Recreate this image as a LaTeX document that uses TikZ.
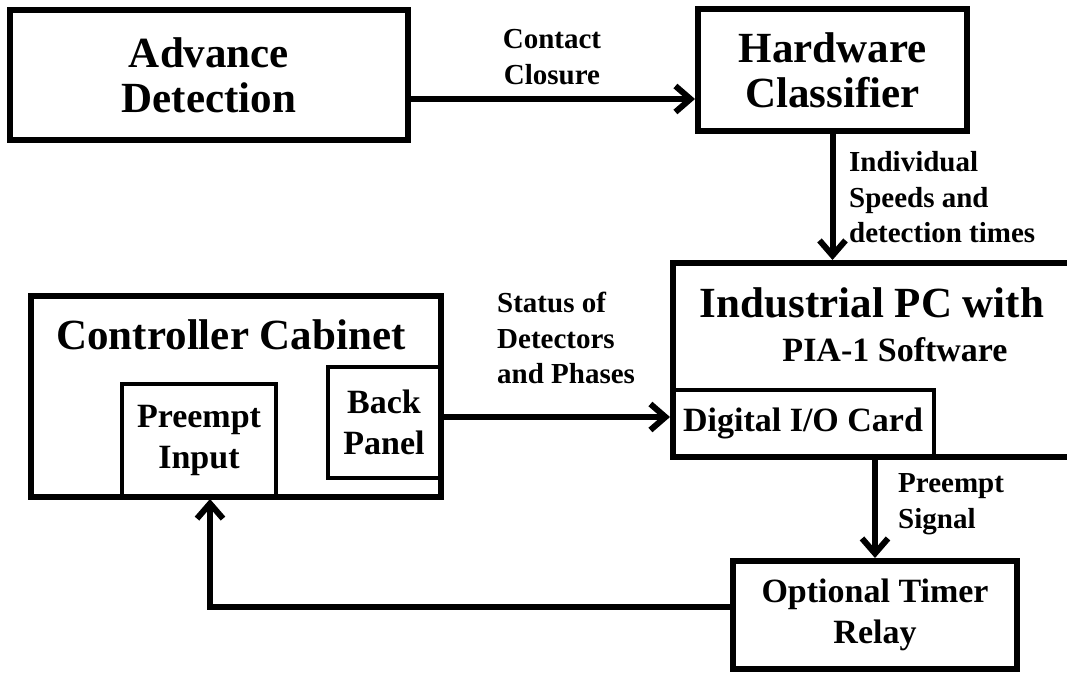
\documentclass[tikz,border=0pt]{standalone}
\usepackage{fontspec}
\setmainfont{Liberation Serif}
\usetikzlibrary{arrows.meta}
\begin{document}
\begin{tikzpicture}[x=1pt,y=-1pt,
  bigfont/.style={font=\fontsize{43}{45}\selectfont\bfseries},
  medfont/.style={font=\fontsize{34}{41}\selectfont\bfseries},
  box/.style={draw, line width=6pt, inner sep=0pt, align=center, bigfont},
  sub/.style={draw, line width=4pt, fill=white, inner sep=0pt, align=center, medfont},
  lbl/.style={inner sep=0pt, align=left, font=\fontsize{29}{35.5}\selectfont\bfseries},
  arr/.style={line width=6pt, -{Straight Barb[length=15pt,width=26pt]}},
  title/.style={inner sep=0pt, align=center, bigfont}]
\useasboundingbox (0,0) rectangle (1067,673);
\clip (0,0) rectangle (1067,673);
% top row
\node[box, minimum width=398pt, minimum height=130pt] (adv) at (209,75) {Advance\\Detection};
\node[box, minimum width=269pt, minimum height=122pt] (hw) at (832.5,70) {Hardware\\Classifier};
% industrial PC
\node[sub, minimum width=262pt, minimum height=67pt] (dio) at (803,423.5) {Digital I/O Card};
\node[box, minimum width=420pt, minimum height=194pt] (pc) at (883,360) {};
\node[title] (pct) at (872,303) {Industrial PC with};
\node[inner sep=0pt, medfont] (pcs) at (895,350) {PIA-1 Software};
% controller cabinet
\node[sub, minimum width=154pt, minimum height=113pt] (pi) at (199,440.5) {Preempt\\Input};
\node[sub, minimum width=112pt, minimum height=111pt] (bp) at (384,422.5) {Back\\Panel};
\node[box, minimum width=410pt, minimum height=201pt] (cc) at (236,396.5) {};
\node[title] (cct) at (231,335) {Controller Cabinet};
% timer relay
\node[box, medfont, minimum width=284pt, minimum height=108pt] (tr) at (875,615) {Optional Timer\\Relay};
% labels
\node[lbl, align=center] (l1) at (552,57) {Contact\\Closure};
\node[lbl, anchor=west] (l2) at (849,197.5) {Individual\\Speeds and\\detection times};
\node[lbl, anchor=west] (l3) at (497,338) {Status of\\Detectors\\and Phases};
\node[lbl, anchor=west] (l4) at (898,504) {Preempt\\Signal};
% connectors
\draw[arr] ([yshift=-24pt]adv.east) -- ([yshift=-24pt]adv.east -| hw.west);
\draw[arr] (hw.south) -- (hw.south |- pc.north);
\draw[arr] ([yshift=5.5pt]bp.east) -- ([yshift=5.5pt]bp.east -| dio.west);
\draw[arr] (tr.north |- dio.south) -- (tr.north);
\draw[arr] ([yshift=8pt]tr.west) -| ([xshift=11pt]pi.south);
\end{tikzpicture}
\end{document}
